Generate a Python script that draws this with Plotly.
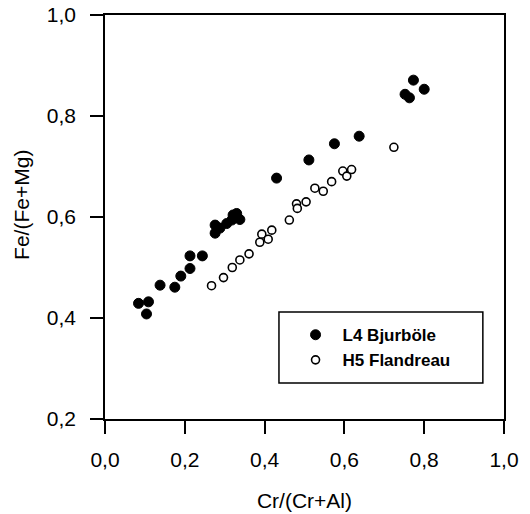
import plotly.graph_objects as go

# L4 Bjurböle (filled)
l4_x = [0.084, 0.104, 0.109, 0.138, 0.175, 0.190, 0.213, 0.213, 0.244,
        0.276, 0.276, 0.288, 0.305, 0.318, 0.321, 0.330, 0.338,
        0.430, 0.511, 0.575, 0.637, 0.752, 0.763, 0.773, 0.800]
l4_y = [0.429, 0.408, 0.432, 0.465, 0.461, 0.483, 0.498, 0.523, 0.523,
        0.568, 0.584, 0.578, 0.587, 0.594, 0.604, 0.607, 0.595,
        0.677, 0.713, 0.745, 0.760, 0.843, 0.836, 0.871, 0.853]

# H5 Flandreau (open)
h5_x = [0.267, 0.297, 0.319, 0.338, 0.361, 0.388, 0.393, 0.409, 0.418,
        0.462, 0.480, 0.482, 0.504, 0.526, 0.547, 0.568, 0.596, 0.606,
        0.618, 0.724]
h5_y = [0.464, 0.480, 0.500, 0.515, 0.527, 0.550, 0.566, 0.556, 0.574,
        0.594, 0.626, 0.617, 0.630, 0.657, 0.651, 0.670, 0.691, 0.681,
        0.694, 0.738]

x_ticks = [0.0, 0.2, 0.4, 0.6, 0.8, 1.0]
y_ticks = [0.2, 0.4, 0.6, 0.8, 1.0]

FONT = "Arial, 'Liberation Sans', sans-serif"

fig = go.Figure()
fig.add_trace(go.Scatter(
    x=l4_x, y=l4_y, mode="markers", name="<b>L4 Bjurböle</b>", legendgroup="a",
    marker=dict(symbol="circle", size=10, color="black",
                line=dict(color="black", width=1))))
fig.add_trace(go.Scatter(
    x=h5_x, y=h5_y, mode="markers", name="<b>H5 Flandreau</b>", legendgroup="b",
    marker=dict(symbol="circle", size=8, color="white",
                line=dict(color="black", width=1.6))))

axis_common = dict(
    showgrid=False, zeroline=False, showline=True, linecolor="black",
    linewidth=1.5, mirror=True, ticks="outside", ticklen=13, tickwidth=1.5,
    tickcolor="black", tickformat=".1f", automargin=False,
    tickfont=dict(family=FONT, size=21, color="black"),
)

fig.update_layout(
    width=530, height=514,
    margin=dict(l=105, r=26, t=15, b=95),
    paper_bgcolor="white", plot_bgcolor="white",
    separators=",.",
    font=dict(family=FONT, color="black"),
    xaxis=dict(range=[0, 1], tickvals=x_ticks, ticklabelstandoff=8,
               title=dict(text="Cr/(Cr+Al)", font=dict(family=FONT, size=21),
                          standoff=23),
               **axis_common),
    yaxis=dict(range=[0.2, 1.0], tickvals=y_ticks, ticklabelstandoff=10,
               **axis_common),
    showlegend=True,
    legend=dict(x=0.46, y=0.252, xanchor="left", yanchor="top",
                bgcolor="rgba(0,0,0,0)", borderwidth=0,
                font=dict(family=FONT, size=17, color="black"),
                itemwidth=44, tracegroupgap=0),
    shapes=[dict(type="rect", xref="paper", yref="paper",
                 x0=0.436, x1=0.947, y0=0.089, y1=0.265,
                 line=dict(color="black", width=1.5), fillcolor="rgba(0,0,0,0)")],
    annotations=[dict(text="Fe/(Fe+Mg)", xref="paper", yref="paper",
                      x=-0.208, y=0.53, xanchor="center", yanchor="middle",
                      textangle=-90, showarrow=False,
                      font=dict(family=FONT, size=21, color="black"))],
)

fig.write_html("out.html")
